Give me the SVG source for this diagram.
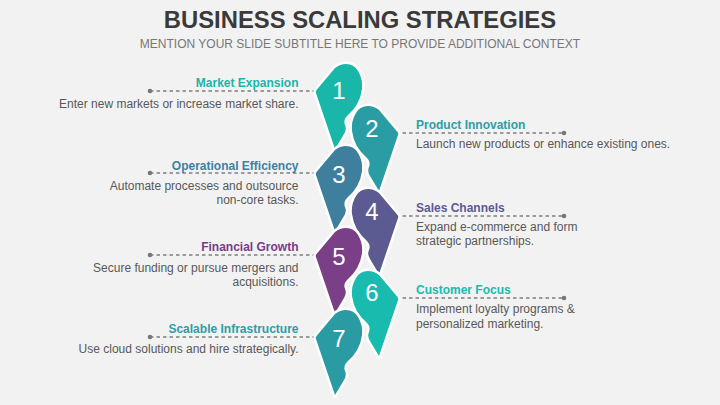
<svg xmlns="http://www.w3.org/2000/svg" xmlns:xlink="http://www.w3.org/1999/xlink" width="720" height="405" viewBox="0 0 720 405">
  <style>
    .title{font-family:"Liberation Sans",Arial,sans-serif;font-weight:bold;font-size:23.8px;fill:#3a3a3a}
    .sub{font-family:"Liberation Sans",Arial,sans-serif;font-size:12px;fill:#777777}
    .hd{font-family:"Liberation Sans",Arial,sans-serif;font-weight:bold;font-size:12px}
    .ds{font-family:"Liberation Sans",Arial,sans-serif;font-size:12px;fill:#585858}
    .num{font-family:"Liberation Sans",Arial,sans-serif;font-size:24px;fill:#ffffff;text-anchor:middle}
    .r{text-anchor:end}
    .drop{stroke:#ffffff;stroke-width:5;paint-order:stroke;stroke-linejoin:round}
    .dash{stroke:#7f7f7f;stroke-width:1.3;stroke-dasharray:3.5 3;fill:none}
    .dot{fill:#777777}
  </style>
  <defs>
    <path id="drop" d="M 0.5,-1 L 19,-23 Q 24,-27 30,-27 Q 38,-27 42,-20 Q 47,-12 46,-2 Q 44,14 31,25 Q 27,29 29,34 Q 31,38 28,43 L 19,58 L -0.2,1.5 Q -0.5,0 0.5,-1 Z"/>
  </defs>
  <rect x="0" y="0" width="720" height="405" fill="#f2f2f2"/>
  <g id="header">
    <text class="title" x="360" y="28.3" text-anchor="middle">BUSINESS SCALING STRATEGIES</text>
    <text class="sub" x="360" y="48.3" text-anchor="middle">MENTION YOUR SLIDE SUBTITLE HERE TO PROVIDE ADDITIONAL CONTEXT</text>
  </g>
  <g id="connectors">
    <line class="dash" x1="150" y1="91" x2="318" y2="91"/>
    <circle class="dot" cx="150" cy="91" r="2.3"/>
    <line class="dash" x1="396" y1="133" x2="564" y2="133"/>
    <circle class="dot" cx="564" cy="133" r="2.3"/>
    <line class="dash" x1="150" y1="173" x2="318" y2="173"/>
    <circle class="dot" cx="150" cy="173" r="2.3"/>
    <line class="dash" x1="396" y1="216" x2="564" y2="216"/>
    <circle class="dot" cx="564" cy="216" r="2.3"/>
    <line class="dash" x1="150" y1="255" x2="318" y2="255"/>
    <circle class="dot" cx="150" cy="255" r="2.3"/>
    <line class="dash" x1="396" y1="298" x2="564" y2="298"/>
    <circle class="dot" cx="564" cy="298" r="2.3"/>
    <line class="dash" x1="150" y1="337" x2="318" y2="337"/>
    <circle class="dot" cx="150" cy="337" r="2.3"/>
  </g>
  <g id="node1">
    <use href="#drop" xlink:href="#drop" class="drop" fill="#19b7aa" transform="translate(316,91)"/>
    <text class="num" x="339" y="98.5">1</text>
    <text class="hd r" x="298.5" y="86.5" fill="#1db3a8">Market Expansion</text>
    <text class="ds r" x="298.5" y="108.3">Enter new markets or increase market share.</text>
  </g>
  <g id="node2">
    <use href="#drop" xlink:href="#drop" class="drop" fill="#2a9da4" transform="translate(398,133) scale(-1,1)"/>
    <text class="num" x="372" y="136.5">2</text>
    <text class="hd" x="416" y="129.3" fill="#2e9ea7">Product Innovation</text>
    <text class="ds" x="416" y="148.3">Launch new products or enhance existing ones.</text>
  </g>
  <g id="node3">
    <use href="#drop" xlink:href="#drop" class="drop" fill="#3e7f9e" transform="translate(316,173)"/>
    <text class="num" x="339" y="182.5">3</text>
    <text class="hd r" x="298.5" y="169.5" fill="#3f80a1">Operational Efficiency</text>
    <text class="ds r" x="298.5" y="190">Automate processes and outsource</text>
    <text class="ds r" x="298.5" y="204">non-core tasks.</text>
  </g>
  <g id="node4">
    <use href="#drop" xlink:href="#drop" class="drop" fill="#5b5b91" transform="translate(398,216) scale(-1,1)"/>
    <text class="num" x="372" y="219.5">4</text>
    <text class="hd" x="416" y="211.8" fill="#5b5a94">Sales Channels</text>
    <text class="ds" x="416" y="231.3">Expand e-commerce and form</text>
    <text class="ds" x="416" y="245.3">strategic partnerships.</text>
  </g>
  <g id="node5">
    <use href="#drop" xlink:href="#drop" class="drop" fill="#7a3f86" transform="translate(316,255)"/>
    <text class="num" x="339" y="265">5</text>
    <text class="hd r" x="298.5" y="250.7" fill="#7b3a8a">Financial Growth</text>
    <text class="ds r" x="298.5" y="272">Secure funding or pursue mergers and</text>
    <text class="ds r" x="298.5" y="285.8">acquisitions.</text>
  </g>
  <g id="node6">
    <use href="#drop" xlink:href="#drop" class="drop" fill="#18bbae" transform="translate(398,298) scale(-1,1)"/>
    <text class="num" x="372" y="300.5">6</text>
    <text class="hd" x="416" y="294.3" fill="#1abaae">Customer Focus</text>
    <text class="ds" x="416" y="313.3">Implement loyalty programs &amp;</text>
    <text class="ds" x="416" y="328">personalized marketing.</text>
  </g>
  <g id="node7">
    <use href="#drop" xlink:href="#drop" class="drop" fill="#2b9ba3" transform="translate(316,337)"/>
    <text class="num" x="339" y="346.5">7</text>
    <text class="hd r" x="298.5" y="332.7" fill="#2c9ea6">Scalable Infrastructure</text>
    <text class="ds r" x="298.5" y="353.3">Use cloud solutions and hire strategically.</text>
  </g>
</svg>
